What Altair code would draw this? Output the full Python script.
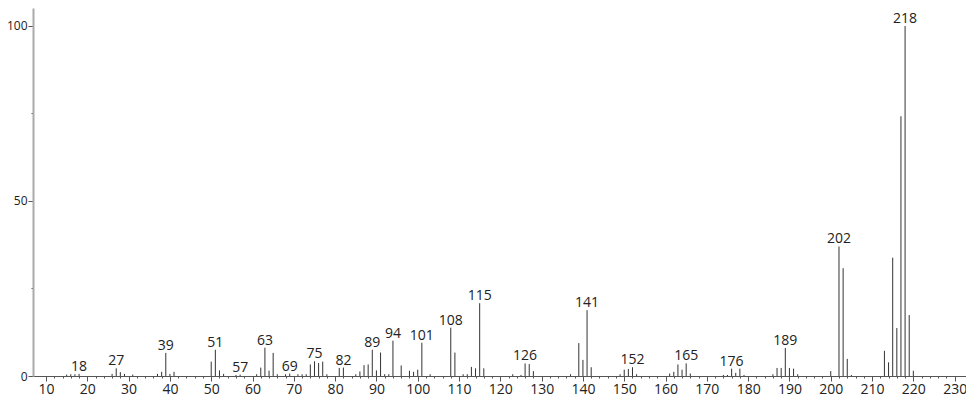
import altair as alt
import pandas as pd

# m/z values and relative intensities
mz = [15, 16, 17, 18, 26, 27, 28, 29, 31,
      37, 38, 39, 40, 41, 50, 51, 52, 53, 56, 57,
      61, 62, 63, 64, 65, 66, 68, 69, 71, 72, 73,
      74, 75, 76, 77, 78, 81, 82, 85, 86, 87, 88, 89, 90, 91, 92, 93, 94, 96,
      98, 99, 100, 101, 103, 108, 109, 111, 112, 113, 114, 115, 116,
      123, 125, 126, 127, 128, 137, 139, 140, 141, 142,
      149, 150, 151, 152, 153, 161, 162, 163, 164, 165, 166,
      174, 175, 176, 177, 178, 179, 186, 187, 188, 189, 190, 191, 192,
      200, 202, 203, 204, 205, 213, 214, 215, 216, 217, 218, 219, 220]
intensity = [0.4, 0.5, 0.5, 0.6, 0.6, 2.2, 1.1, 0.6, 0.4,
             0.6, 1.2, 6.6, 0.6, 1.2, 4.1, 7.5, 1.6, 0.6, 0.3, 0.4,
             0.5, 2.4, 8.1, 1.5, 6.6, 0.5, 0.5, 0.7, 0.5, 0.5, 0.5,
             3.3, 4.2, 3.7, 4.1, 0.5, 2.3, 2.4, 0.5, 1.3, 3.1, 3.3, 7.5, 1.6, 6.7, 0.5, 0.5, 10.1, 3.0,
             1.5, 1.2, 1.8, 9.5, 0.5, 13.8, 6.7, 0.5, 0.5, 2.6, 2.2, 20.8, 2.2,
             0.5, 0.3, 3.6, 3.4, 1.4, 0.5, 9.4, 4.6, 18.8, 2.5,
             0.5, 1.8, 2.0, 2.5, 0.5, 0.7, 1.2, 3.3, 1.8, 3.6, 0.7,
             0.3, 0.3, 2.1, 0.9, 2.1, 0.3, 0.5, 2.3, 2.3, 8.0, 2.3, 2.1, 0.5,
             1.4, 37.0, 30.8, 4.9, 0.3, 7.2, 3.9, 33.8, 13.7, 74.2, 100.0, 17.4, 1.5]

# peaks carrying an m/z label
labeled = [18, 27, 39, 51, 57, 63, 69, 75, 82, 89, 94, 101, 108, 115,
           126, 141, 152, 165, 176, 189, 202, 218]

x_ticks = list(range(10, 231, 2))
y_ticks = [0, 25, 50, 75, 100]

df = pd.DataFrame({"mz": mz, "intensity": intensity})
df["label"] = [str(m) if m in labeled else "" for m in mz]
lab = df[df["label"] != ""]

FONT = "Open Sans"

xscale = alt.Scale(domain=[6.85, 232.75], nice=False, zero=False)
yscale = alt.Scale(domain=[0, 105.14], nice=False)

xaxis = alt.Axis(
    values=x_ticks,
    labelExpr="datum.value % 10 === 0 ? datum.label : ''",
    tickSize={"condition": {"test": "datum.value % 10 === 0", "value": 5}, "value": 2},
    tickColor="#555", domainColor="#555", domainWidth=1,
    labelFont=FONT, labelFontSize=14, labelColor="#222", labelPadding=1,
    grid=False, title=None, labelFlush=False, labelOverlap=False, labelBound=False,
)
yaxis = alt.Axis(
    values=y_ticks,
    labelExpr="datum.value % 50 === 0 ? datum.label : ''",
    tickSize={"condition": {"test": "datum.value % 50 === 0", "value": 5}, "value": 2},
    tickColor="#555", domainColor="#aaaaaa", domainWidth=2,
    labelFont=FONT, labelFontSize=12, labelColor="#222", labelPadding=1,
    grid=False, title=None, labelFlush=False, labelOverlap=False, labelBound=False,
)

bars = alt.Chart(df).mark_rule(color="#333333", strokeWidth=1).encode(
    x=alt.X("mz:Q", scale=xscale, axis=xaxis),
    y=alt.Y("intensity:Q", scale=yscale, axis=yaxis),
    y2=alt.datum(0),
)

texts = alt.Chart(lab).mark_text(
    baseline="alphabetic", align="center", dy=-3, font=FONT, fontSize=14, color="#222"
).encode(
    x=alt.X("mz:Q", scale=xscale, axis=xaxis),
    y=alt.Y("intensity:Q", scale=yscale, axis=yaxis),
    text="label:N",
)

chart = alt.layer(bars, texts).properties(
    width=933, height=368,
    autosize=alt.AutoSizeParams(type="none"),
    padding={"left": 25, "top": 0, "right": 0, "bottom": 22},
).configure_view(stroke=None).configure_axis(labelOverlap=False)

chart.save("out.html", embed_options={"renderer": "svg", "actions": False})
